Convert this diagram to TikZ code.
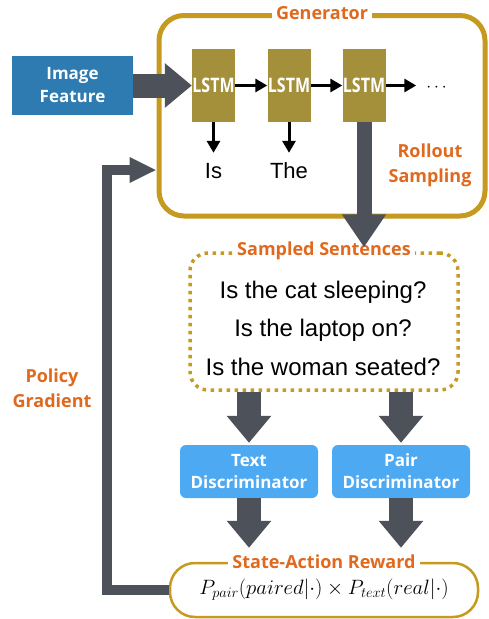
\documentclass[tikz,border=0pt]{standalone}
\usepackage[no-math]{fontspec}
\usepackage{amsmath}
\usepackage{amssymb}
\setmainfont{Liberation Sans}
\newfontfamily\labelfont{Open Sans}
\usetikzlibrary{arrows.meta,positioning}

\definecolor{lblorange}{HTML}{E0691E}
\definecolor{boxgold}{HTML}{C59A1F}
\definecolor{lstmolive}{HTML}{A48F3A}
\definecolor{imgblue}{HTML}{2D7BB1}
\definecolor{discblue}{HTML}{4DA9F2}
\definecolor{arrowgray}{HTML}{4D5159}

\begin{document}
\begin{tikzpicture}[x=1pt, y=-1pt,
  orangelbl/.style={font=\labelfont\bfseries\fontsize{18}{25}\selectfont, text=lblorange, fill=white, inner sep=4pt, align=center},
  lstmbox/.style={fill=lstmolive, minimum width=43pt, minimum height=73pt, inner sep=0pt, text=white, font=\labelfont\bfseries\fontsize{20}{22}\selectfont},
  discbox/.style={fill=discblue, rounded corners=6pt, minimum width=138pt, minimum height=53pt, inner sep=0pt, text=white, align=center, font=\labelfont\bfseries\fontsize{17}{22}\selectfont},
  bigarrow/.style={draw=arrowgray, line width=24pt, -{Triangle[length=27pt,width=43pt]}},
  thinarrow/.style={draw=black, line width=3pt, -{Triangle[length=12pt,width=13pt]}},
  word/.style={font=\fontsize{22}{24}\selectfont, inner sep=0pt, text height=16pt, text depth=4pt},
  sentence/.style={font=\fontsize{24}{28}\selectfont}]
\useasboundingbox (0,0) rectangle (489,619);

% generator
\node[draw=boxgold, line width=5pt, rounded corners=25pt, minimum width=326pt, minimum height=200.5pt] (gen) at (322,115.75) {};
\node[orangelbl] (genlbl) at (gen.north) {Generator};
\node[fill=imgblue, minimum width=121pt, minimum height=59pt, text=white, align=center, font=\labelfont\bfseries\fontsize{17}{23}\selectfont] (img) at (72.5,85.5) {Image\\Feature};
\node[lstmbox] (lstm1) at (213.5,85.5) {\scalebox{0.8}[1]{LSTM}};
\node[lstmbox] (lstm2) at (289,85.5) {\scalebox{0.8}[1]{LSTM}};
\node[lstmbox] (lstm3) at (364,85.5) {\scalebox{0.8}[1]{LSTM}};
\node[font=\fontsize{18}{18}\selectfont, inner sep=1pt] (dots) at (438,88) {$\cdots$};
\node[word] (w1) at (213.5,172) {Is};
\node[word] (w2) at (289,172) {The};
\node[orangelbl] (rollout) at (430,165) {Rollout\\Sampling};

\draw[bigarrow] (img.east) -- (lstm1.west);
\draw[thinarrow] (lstm1.east) -- (lstm2.west);
\draw[thinarrow] (lstm2.east) -- (lstm3.west);
\draw[thinarrow, shorten >=9pt] (lstm3.east) -- (dots.west |- lstm3.east);
\draw[thinarrow, shorten >=9pt] (lstm1.south) -- (w1.north);
\draw[thinarrow, shorten >=9pt] (lstm2.south) -- (w2.north);

% sampled sentences
\node[draw=boxgold, line width=3.5pt, dash pattern=on 3.5pt off 4.5pt, rounded corners=18pt, minimum width=268pt, minimum height=137pt] (sampled) at (324,321.5) {};
\node[orangelbl, font=\labelfont\bfseries\fontsize{18}{20}\selectfont] (samplbl) at (sampled.north) {Sampled Sentences};
\node[sentence] (s1) at (323,292) {Is the cat sleeping?};
\node[sentence] (s2) at (323,330) {Is the laptop on?};
\node[sentence] (s3) at (323,367) {Is the woman seated?};
\draw[bigarrow, line width=15pt, -{Triangle[length=33pt,width=42pt]}, shorten >=4pt] (lstm3.south) -- (lstm3.south |- sampled.north);

% discriminators
\node[discbox] (tdisc) at (249,471.5) {Text\\Discriminator};
\node[discbox] (pdisc) at (401,471.5) {Pair\\Discriminator};
\draw[bigarrow, shorten >=2pt] (tdisc.north |- sampled.south) -- (tdisc.north);
\draw[bigarrow, shorten >=2pt] (pdisc.north |- sampled.south) -- (pdisc.north);

% reward
\node[draw=boxgold, line width=2.5pt, rounded corners=25pt, minimum width=308pt, minimum height=54pt, font=\fontsize{20}{24}\selectfont] (reward) at (324,590) {$P_{pair}(paired|\cdot)\times P_{text}(real|\cdot)$};
\node[orangelbl] (rewlbl) at (reward.north) {State-Action Reward};
\draw[bigarrow, shorten >=14pt] (tdisc.south) -- (tdisc.south |- reward.north);
\draw[bigarrow, shorten >=14pt] (pdisc.south) -- (pdisc.south |- reward.north);

% policy gradient
\coordinate (fbtop) at (107,170);
\node[orangelbl] (policy) at (52,388) {Policy\\Gradient};
\draw[draw=arrowgray, line width=10pt, -{Triangle[length=27pt,width=24pt]}] (reward.west) -| (fbtop) -- (fbtop -| gen.west);
\end{tikzpicture}
\end{document}
